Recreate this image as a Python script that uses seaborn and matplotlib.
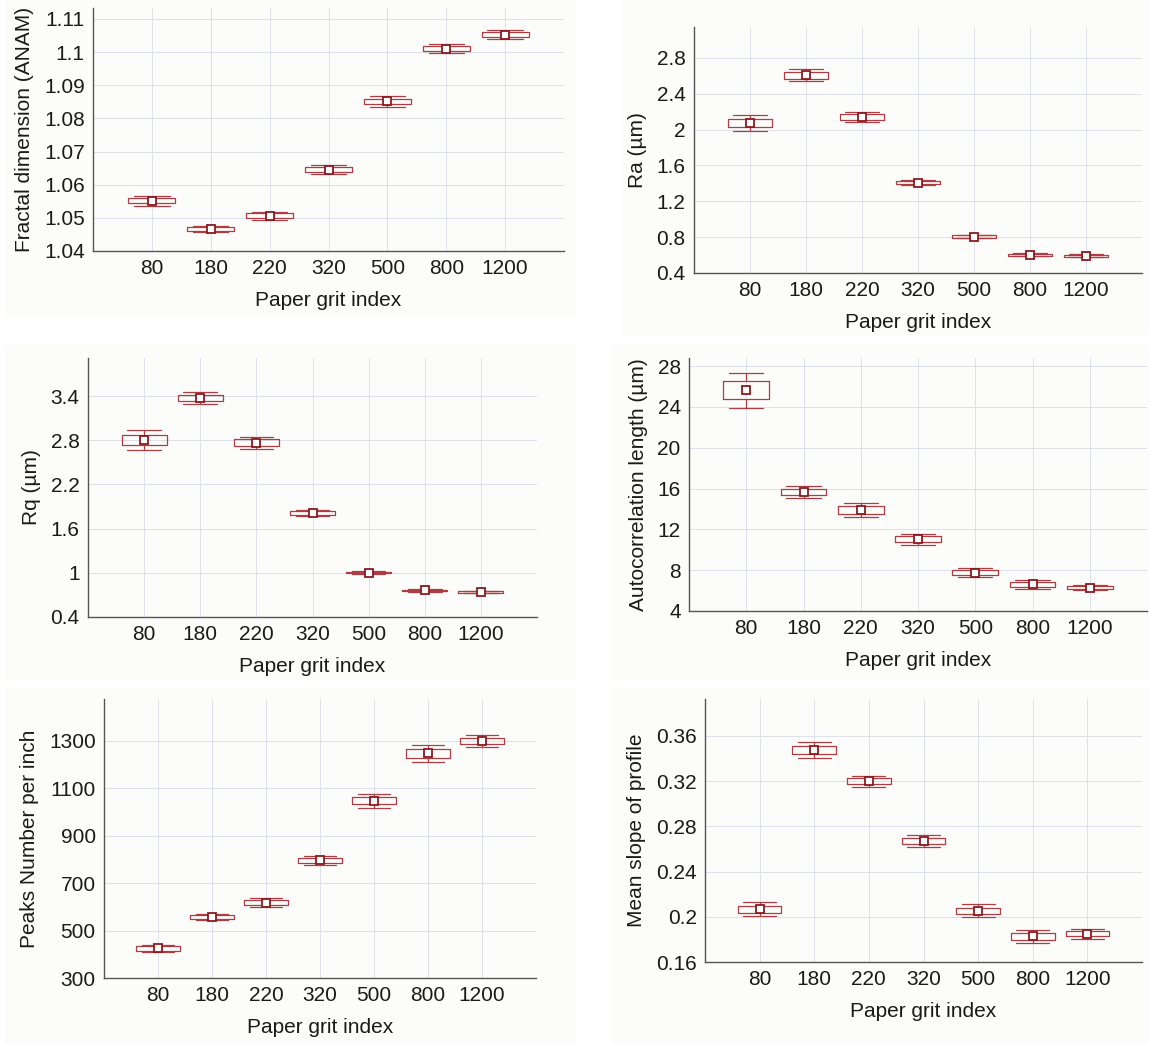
import matplotlib
matplotlib.use("Agg")
import matplotlib.pyplot as plt
from matplotlib.patches import Rectangle
from matplotlib.ticker import AutoMinorLocator, FuncFormatter
import seaborn as sns
import pandas as pd

## grit index categories and the mean / box (+-SE) / whisker half widths ##

grit = ["80", "180", "220", "320", "500", "800", "1200"]

fd_mean = [1.0551, 1.0466, 1.0507, 1.0645, 1.0851, 1.1010, 1.1053]
fd_box = [0.00075, 0.0007, 0.0007, 0.0007, 0.0009, 0.0008, 0.0007]
fd_whisk = [0.0014, 0.0010, 0.0012, 0.0013, 0.0016, 0.0014, 0.0013]

ra_mean = [2.074, 2.605, 2.141, 1.410, 0.807, 0.605, 0.593]
ra_box = [0.048, 0.035, 0.030, 0.019, 0.012, 0.010, 0.010]
ra_whisk = [0.089, 0.067, 0.058, 0.030, 0.018, 0.015, 0.015]

rq_mean = [2.800, 3.373, 2.764, 1.812, 1.004, 0.761, 0.738]
rq_box = [0.070, 0.047, 0.047, 0.023, 0.013, 0.010, 0.010]
rq_whisk = [0.135, 0.086, 0.083, 0.045, 0.022, 0.018, 0.018]

acl_mean = [25.65, 15.67, 13.86, 11.02, 7.74, 6.63, 6.30]
acl_box = [0.88, 0.33, 0.39, 0.29, 0.26, 0.25, 0.15]
acl_whisk = [1.72, 0.60, 0.69, 0.56, 0.43, 0.43, 0.25]

pk_mean = [425, 558, 618, 796, 1047, 1248, 1299]
pk_box = [10, 9, 11, 11, 15, 18, 13]
pk_whisk = [16, 13, 18, 18, 30, 37, 25]

ms_mean = [0.2068, 0.3476, 0.3200, 0.2670, 0.2053, 0.1826, 0.1851]
ms_box = [0.0031, 0.0034, 0.0027, 0.0025, 0.0027, 0.0030, 0.0025]
ms_whisk = [0.0064, 0.0071, 0.0050, 0.0050, 0.0056, 0.0060, 0.0044]

fd_ticks = [1.04, 1.05, 1.06, 1.07, 1.08, 1.09, 1.1, 1.11]
ra_ticks = [0.4, 0.8, 1.2, 1.6, 2.0, 2.4, 2.8]
rq_ticks = [0.4, 1.0, 1.6, 2.2, 2.8, 3.4]
acl_ticks = [4, 8, 12, 16, 20, 24, 28]
pk_ticks = [300, 500, 700, 900, 1100, 1300]
ms_ticks = [0.16, 0.2, 0.24, 0.28, 0.32, 0.36]

box_colour = "#ad3d43"
mean_colour = "#8a1a20"
grid_colour = "#dfe1ea"
spine_colour = "#555555"
text_colour = "#1a1a1a"
font_size = 15

sns.set_style("white")
plt.rcParams["font.family"] = ["Liberation Sans", "DejaVu Sans"]

W, H = 1149, 1044
fig = plt.figure(figsize=(W / 100, H / 100), dpi=100)


def px_axes(left, top, right, bottom):
    return fig.add_axes([left / W, 1 - bottom / H, (right - left) / W, (bottom - top) / H])


# faint off-white panel backgrounds, kept behind the axes
for x0, y0, w, h in [(5, 0, 570, 316), (622, 0, 527, 334), (5, 345, 570, 334),
                     (612, 345, 537, 334), (5, 688, 570, 356), (612, 688, 537, 356)]:
    fig.patches.append(Rectangle((x0 / W, 1 - (y0 + h) / H), w / W, h / H,
                                 transform=fig.transFigure, color="#fcfcfb", zorder=-10))


def box_frame(mean, box, whisk):
    rows = []
    for g, m, b, w in zip(grit, mean, box, whisk):
        for v in (m - w, m - b, m, m + b, m + w):
            rows.append((g, v))
    return pd.DataFrame(rows, columns=["grit", "value"])


def mean_box(ax, mean, box, whisk, ylabel, ylim, ticks):
    df = box_frame(mean, box, whisk)
    sns.boxplot(data=df, x="grit", y="value", order=grit, width=0.8, whis=(0, 100),
                fill=False, color=box_colour, linewidth=0.9, showfliers=False,
                capwidths=0.6, medianprops={"visible": False}, ax=ax)
    ax.plot(range(len(grit)), mean, linestyle="none", marker="s", markersize=6,
            markerfacecolor="white", markeredgecolor=mean_colour, markeredgewidth=1.3, zorder=5)

    ax.set_xlim(-1, len(grit))
    ax.set_ylim(*ylim)
    ax.set_yticks(ticks)
    ax.yaxis.set_major_formatter(FuncFormatter(lambda v, p: f"{v:g}"))
    ax.yaxis.set_minor_locator(AutoMinorLocator(4))

    ax.set_facecolor("none")
    ax.grid(True, color=grid_colour, linewidth=0.7)
    ax.set_axisbelow(True)
    for s in ["top", "right"]:
        ax.spines[s].set_visible(False)
    for s in ["left", "bottom"]:
        ax.spines[s].set_color(spine_colour)
        ax.spines[s].set_linewidth(1.0)

    ax.tick_params(axis="both", which="major", direction="in", length=3, color="#888888",
                   labelsize=font_size, pad=6, labelcolor=text_colour)
    ax.tick_params(axis="y", which="minor", direction="in", length=2, color="#999999")
    ax.set_xlabel("Paper grit index", fontsize=font_size, labelpad=9, color=text_colour)
    ax.set_ylabel(ylabel, fontsize=font_size, labelpad=7, color=text_colour)


ax1 = px_axes(93, 8, 564, 251)
mean_box(ax1, fd_mean, fd_box, fd_whisk, "Fractal dimension (ANAM)", (1.04, 1.1133), fd_ticks)

ax2 = px_axes(694, 27, 1142, 273)
mean_box(ax2, ra_mean, ra_box, ra_whisk, "Ra (µm)", (0.4, 3.146), ra_ticks)

ax3 = px_axes(88, 358, 537, 617)
mean_box(ax3, rq_mean, rq_box, rq_whisk, "Rq (µm)", (0.4, 3.916), rq_ticks)

ax4 = px_axes(689, 358, 1147, 611)
mean_box(ax4, acl_mean, acl_box, acl_whisk, "Autocorrelation length (µm)", (4, 28.8), acl_ticks)

ax5 = px_axes(104, 699, 536, 978)
mean_box(ax5, pk_mean, pk_box, pk_whisk, "Peaks Number per inch", (300, 1477), pk_ticks)

ax6 = px_axes(705, 699, 1142, 962)
mean_box(ax6, ms_mean, ms_box, ms_whisk, "Mean slope of profile", (0.16, 0.3927), ms_ticks)

fig.savefig("out.png", dpi=100)
